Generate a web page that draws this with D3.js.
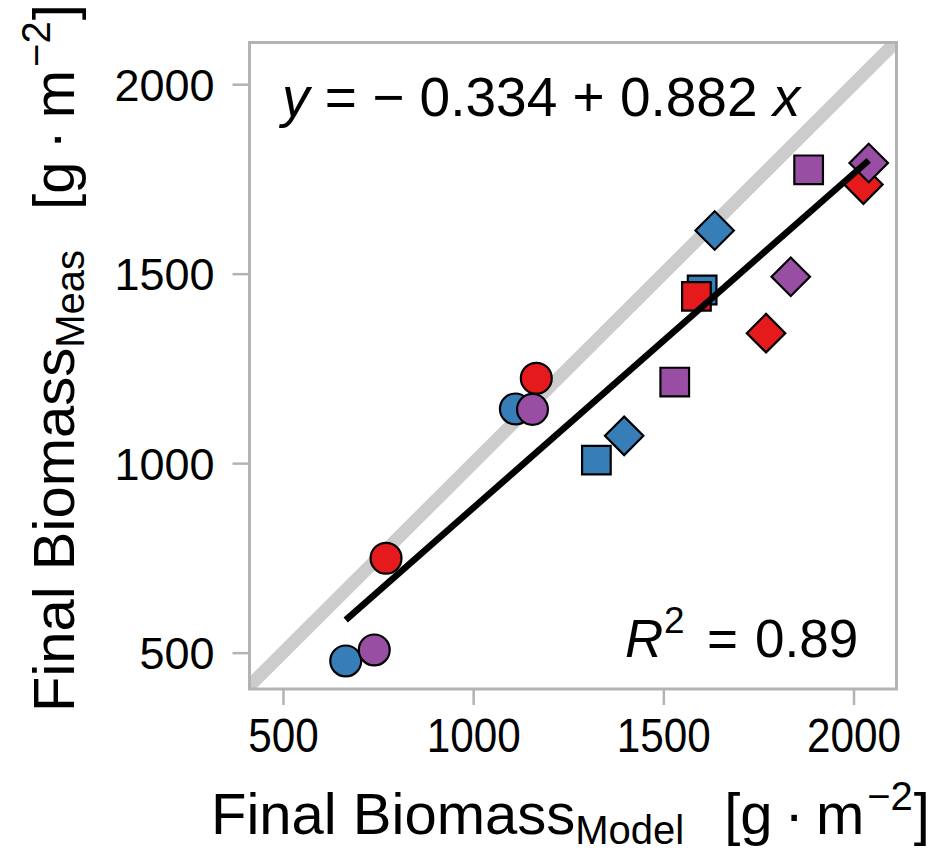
<!DOCTYPE html>
<html>
<head>
<meta charset="utf-8">
<script src="https://cdn.jsdelivr.net/npm/d3@7"></script>
<style>
  body { margin: 0; background: #ffffff; }
  svg { display: block; }
  text { font-family: "Liberation Sans", Arial, Helvetica, sans-serif; fill: #000; }
</style>
</head>
<body>
<svg id="chart" width="939" height="851"></svg>
<script>
// ---- data -------------------------------------------------------------
// Final biomass per plot: model estimate vs. measurement (g m^-2)
const modelBiomass    = [665, 1111, 1324, 1602, 1397, 1635,
                         771, 1166, 1587, 1770, 2026,
                         740, 1156, 1530, 1882, 1835, 2040];
const measuredBiomass = [478, 1143, 1008, 1457, 1072, 1614,
                         749, 1224, 1440, 1343, 1735,
                         507, 1142, 1214, 1774, 1492, 1792];
const colourGroup     = ["A", "A", "A", "A", "A", "A",
                         "B", "B", "B", "B", "B",
                         "C", "C", "C", "C", "C", "C"];
const shapeGroup      = ["circle", "circle", "square", "square", "diamond", "diamond",
                         "circle", "circle", "square", "diamond", "diamond",
                         "circle", "circle", "square", "square", "diamond", "diamond"];

const colourKeys   = ["A", "B", "C"];
const colourValues = ["#377EB8", "#E41A1C", "#984EA3"];

// linear fit reported on the chart
const fitIntercept = -0.334;
const fitSlope     = 0.882;
const fitR2        = 0.89;

const xTickValues = [500, 1000, 1500, 2000];
const yTickValues = [500, 1000, 1500, 2000];
const xDomain = [412, 2113];
const yDomain = [404, 2110];

// ---- layout -----------------------------------------------------------
const svg = d3.select("#chart");
const panel = { left: 249.5, right: 896.5, top: 42.5, bottom: 689 };

const x = d3.scaleLinear().domain(xDomain).range([panel.left, panel.right]);
const y = d3.scaleLinear().domain(yDomain).range([panel.bottom, panel.top]);
const colour = d3.scaleOrdinal().domain(colourKeys).range(colourValues);

svg.append("defs").append("clipPath").attr("id", "panel-clip")
  .append("rect")
  .attr("x", panel.left).attr("y", panel.top)
  .attr("width", panel.right - panel.left)
  .attr("height", panel.bottom - panel.top);

// 1:1 reference line
const plotArea = svg.append("g").attr("clip-path", "url(#panel-clip)");
const lo = Math.min(xDomain[0], yDomain[0]) - 100;
const hi = Math.max(xDomain[1], yDomain[1]) + 100;
plotArea.append("line")
  .attr("x1", x(lo)).attr("y1", y(lo))
  .attr("x2", x(hi)).attr("y2", y(hi))
  .attr("stroke", "#cccccc").attr("stroke-width", 13);

// points
const points = modelBiomass.map((m, i) => ({
  model: m, meas: measuredBiomass[i], col: colourGroup[i], shape: shapeGroup[i]
}));
const symbolFor = {
  circle:  d3.symbol().type(d3.symbolCircle).size(750),
  square:  d3.symbol().type(d3.symbolSquare).size(820),
  diamond: d3.symbol().type(d3.symbolSquare).size(740)
};
plotArea.selectAll("path.pt")
  .data(points)
  .join("path")
  .attr("class", "pt")
  .attr("d", d => symbolFor[d.shape]())
  .attr("transform", d => `translate(${x(d.model)},${y(d.meas)})` + (d.shape === "diamond" ? " rotate(45)" : ""))
  .attr("fill", d => colour(d.col))
  .attr("stroke", "#000")
  .attr("stroke-width", 2.2);

// fitted regression line over the range of the model values
const [xMin, xMax] = d3.extent(modelBiomass);
plotArea.append("line")
  .attr("x1", x(xMin)).attr("y1", y(fitIntercept + fitSlope * xMin))
  .attr("x2", x(xMax)).attr("y2", y(fitIntercept + fitSlope * xMax))
  .attr("stroke", "#000").attr("stroke-width", 6.5);

// panel border
svg.append("rect")
  .attr("x", panel.left).attr("y", panel.top)
  .attr("width", panel.right - panel.left)
  .attr("height", panel.bottom - panel.top)
  .attr("fill", "none").attr("stroke", "#b3b3b3").attr("stroke-width", 3);

// ---- axes -------------------------------------------------------------
const xAxis = svg.append("g")
  .attr("transform", `translate(0,${panel.bottom})`)
  .call(d3.axisBottom(x).tickValues(xTickValues).tickSize(16).tickFormat(d3.format("d")));
const yAxis = svg.append("g")
  .attr("transform", `translate(${panel.left},0)`)
  .call(d3.axisLeft(y).tickValues(yTickValues).tickSize(17).tickFormat(d3.format("d")));

[xAxis, yAxis].forEach(g => {
  g.select(".domain").remove();
  g.selectAll(".tick line").attr("stroke", "#b3b3b3").attr("stroke-width", 2.5);
});
xAxis.selectAll(".tick text")
  .attr("y", 0).attr("dy", null)
  .attr("font-size", 48)
  .attr("text-anchor", "middle")
  .attr("transform", "translate(0,63) scale(0.88,1)");
yAxis.selectAll(".tick text")
  .attr("x", -35).attr("dy", "0.36em")
  .attr("font-size", 45)
  .attr("text-anchor", "end");

// ---- axis titles ------------------------------------------------------
function axisTitle(sel, sub) {
  sel.attr("font-size", 58);
  sel.append("tspan").text("Final Biomass");
  sel.append("tspan").attr("font-size", 40).attr("dy", 10).text(sub);
  sel.append("tspan").attr("dy", -10).attr("dx", 40).text("[g");
  sel.append("tspan").attr("dx", 12).text("\u00B7");
  sel.append("tspan").attr("dx", 12).text("m");
  sel.append("tspan").attr("font-size", 40).attr("dy", -24).attr("dx", 3).text("\u22122");
  sel.append("tspan").attr("dy", 24).attr("dx", 1).text("]");
}
axisTitle(svg.append("text").attr("x", 211).attr("y", 834), "Model");
axisTitle(svg.append("text").attr("transform", "translate(74,712) rotate(-90)"), "Meas");

// ---- annotations ------------------------------------------------------
const eq = svg.append("text").attr("x", 282).attr("y", 116).attr("font-size", 55);
eq.append("tspan").attr("font-style", "italic").text("y");
eq.append("tspan").text(` = ${fitIntercept < 0 ? "\u2212" : "+"} ${Math.abs(fitIntercept).toFixed(3)} + ${fitSlope.toFixed(3)} `);
eq.append("tspan").attr("font-style", "italic").text("x");

const r2 = svg.append("text").attr("y", 657).attr("font-size", 53);
r2.append("tspan").attr("x", 625).attr("font-style", "italic").text("R");
r2.append("tspan").attr("x", 664).attr("dy", -24).attr("font-size", 37).text("2");
r2.append("tspan").attr("x", 707).attr("dy", 24).text("=");
r2.append("tspan").attr("x", 755).text(fitR2.toFixed(2));
</script>
</body>
</html>
